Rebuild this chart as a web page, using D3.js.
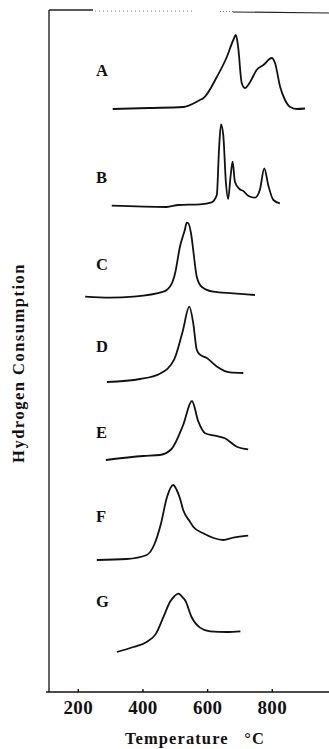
<!DOCTYPE html>
<html lang="en">
<head>
  <meta charset="UTF-8">
  <title>TPR profiles</title>
  <script src="https://d3js.org/d3.v7.min.js"></script>
  <style>
    body {
      margin: 0;
      background: #fff;
    }
    svg text {
      font-family: "Liberation Serif", "Times New Roman", serif;
      font-weight: bold;
      fill: #111;
    }
    .trace {
      fill: none;
      stroke: #111;
      stroke-width: 1.8px;
      stroke-linejoin: round;
    }
    .axis path, .axis line {
      stroke: #111;
      stroke-width: 1.4px;
    }
    .axis text {
      font-size: 19px;
      letter-spacing: 0.3px;
    }
  </style>
</head>
<body>
  <svg id="chart" width="329" height="749"></svg>

  <script>
    // sample names and vertical offset of each trace (arbitrary units)
    const samples = ["A", "B", "C", "D", "E", "F", "G"];
    const offsets = [58.3, 48.5, 39.5, 31.0, 23.2, 13.2, 4.0];
    const labelLevels = [62.15, 51.45, 42.8, 34.6, 26.0, 17.55, 9.1];
    const labelTemp = 256;

    // temperature (°C) and hydrogen consumption (a.u.)
    const tempA = [308, 420, 526, 578, 588, 630, 661, 681, 689, 696, 707, 717, 733, 753, 774, 800, 810, 826, 841, 857, 877, 903];
    const sigA  = [0, 0.1, 0.2, 0.9, 1.07, 3.2, 5.2, 6.9, 7.4, 6.2, 2.6, 2.1, 2.7, 3.9, 4.4, 5.1, 4.6, 2.2, 0.9, 0.2, 0, 0.05];

    const tempB = [305, 475, 511, 578, 614, 630, 637, 643, 650, 658, 665, 673, 679, 686, 700, 712, 727, 748, 763, 777, 789, 805, 825];
    const sigB  = [0.13, 0, 0.2, 0.27, 0.47, 1.2, 5.87, 8.27, 7.2, 2.53, 0.8, 3.2, 4.53, 2.53, 1.8, 1.6, 1.13, 0.93, 1.7, 3.87, 2.2, 0.7, 0.37];

    const tempC = [223, 300, 372, 465, 491, 501, 516, 531, 537, 541, 552, 557, 568, 583, 619, 681, 748];
    const sigC  = [0.03, -0.07, 0.03, 0.53, 1.37, 2.37, 5.03, 6.7, 7.43, 7.4, 6.0, 4.7, 2.03, 1.03, 0.53, 0.37, 0.2];

    const tempD = [290, 393, 454, 498, 524, 545, 557, 568, 578, 599, 630, 671, 712];
    const sigD  = [0, 0.3, 0.83, 2.23, 5.0, 7.53, 5.9, 3.23, 2.73, 2.4, 1.56, 0.96, 0.9];

    const tempE = [287, 403, 454, 490, 526, 553, 573, 594, 624, 655, 692, 727];
    const sigE  = [0, 0.4, 0.5, 1.1, 3.5, 5.9, 3.83, 2.67, 2.43, 2.17, 1.33, 1.07];

    const tempF = [259, 351, 413, 436, 457, 476, 495, 506, 516, 526, 547, 557, 588, 620, 650, 681, 727];
    const sigF  = [0, 0.1, 0.5, 1.5, 3.6, 6.3, 7.5, 7.0, 6.17, 5.0, 3.83, 3.33, 2.67, 2.2, 2.0, 2.23, 2.43];

    const tempG = [321, 372, 413, 442, 467, 485, 498, 511, 526, 532, 552, 578, 609, 661, 703];
    const sigG  = [0, 0.5, 1.0, 1.84, 3.67, 5.0, 5.55, 5.84, 5.4, 5.17, 3.5, 2.44, 2.07, 2.0, 2.07];

    const xTicks = [200, 400, 600, 800];

    const temps = [tempA, tempB, tempC, tempD, tempE, tempF, tempG];
    const sigs = [sigA, sigB, sigC, sigD, sigE, sigF, sigG];

    const margin = {top: 10, right: 0, bottom: 57, left: 49};
    const width = 329 - margin.left - margin.right;
    const height = 749 - margin.top - margin.bottom;

    const svg = d3.select("#chart")
      .append("g")
      .attr("transform", `translate(${margin.left},${margin.top})`);

    const x = d3.scaleLinear().domain([111, 977]).range([0, width]);
    const y = d3.scaleLinear().domain([0, 68.2]).range([height, 0]);

    const traces = samples.map((name, i) => ({
      name,
      values: temps[i].map((t, j) => ({t, v: sigs[i][j] + offsets[i]}))
    }));

    const line = d3.line()
      .x(d => x(d.t))
      .y(d => y(d.v))
      .curve(d3.curveMonotoneX);

    // frame: faded top edge of the scanned box
    const frame = svg.append("g").attr("stroke", "#222").attr("fill", "none");
    frame.append("line").attr("x1", 0).attr("x2", 44).attr("y1", 0).attr("y2", 0).attr("stroke-width", 1.3);
    frame.append("line").attr("x1", 46).attr("x2", 146).attr("y1", 1).attr("y2", 1)
      .attr("stroke-width", 1).attr("stroke-dasharray", "1,3").attr("stroke", "#777");
    frame.append("line").attr("x1", 171).attr("x2", 184).attr("y1", 1.5).attr("y2", 1.5)
      .attr("stroke-width", 1).attr("stroke-dasharray", "1,2").attr("stroke", "#777");
    frame.append("line").attr("x1", 184).attr("x2", width).attr("y1", 2).attr("y2", 3).attr("stroke-width", 1.2);
    frame.append("line").attr("x1", 0).attr("x2", 0).attr("y1", 0).attr("y2", height).attr("stroke-width", 1.4);

    svg.append("g")
      .attr("class", "axis")
      .attr("transform", `translate(0,${height})`)
      .call(d3.axisBottom(x).tickValues(xTicks).tickSizeInner(-3).tickSizeOuter(0).tickPadding(9))
      .call(g => g.select(".domain").attr("d", `M-3,0H${width}`));

    svg.selectAll(".trace")
      .data(traces)
      .join("path")
      .attr("class", "trace")
      .attr("d", d => line(d.values));

    svg.selectAll(".sample-label")
      .data(samples)
      .join("text")
      .attr("class", "sample-label")
      .attr("x", x(labelTemp))
      .attr("y", (d, i) => y(labelLevels[i]))
      .attr("dy", "0.35em")
      .attr("font-size", 16.5)
      .text(d => d);

    // axis titles
    svg.append("text")
      .attr("x", 146)
      .attr("y", height + 52)
      .attr("text-anchor", "middle")
      .attr("font-size", 16.5)
      .attr("letter-spacing", 1.1)
      .attr("xml:space", "preserve")
      .text("Temperature   °C");

    svg.append("text")
      .attr("transform", `translate(${24 - margin.left},${363 - margin.top}) rotate(-90)`)
      .attr("text-anchor", "middle")
      .attr("font-size", 16.5)
      .attr("letter-spacing", 1.5)
      .text("Hydrogen Consumption");
  </script>
</body>
</html>
